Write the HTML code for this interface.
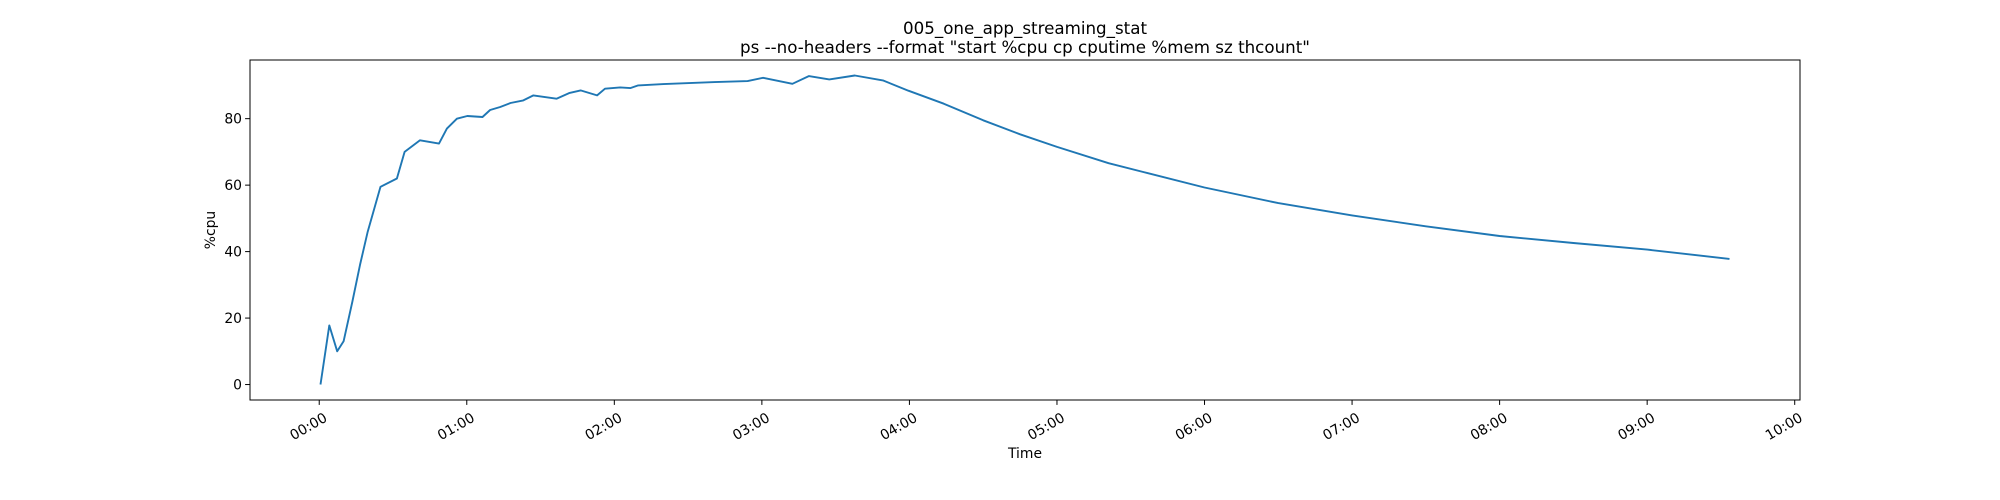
<!DOCTYPE html>
<html><head><meta charset="utf-8"><style>
html,body{margin:0;padding:0;background:#fff;}
svg{display:block;font-family:"DejaVu Sans","Liberation Sans",sans-serif;}
</style></head><body>
<svg id="chart" width="2000" height="500" viewBox="0 0 2000 500" xmlns="http://www.w3.org/2000/svg">
<rect width="2000" height="500" fill="#fff"/>
<text x="1025" y="34" text-anchor="middle" font-size="16.7">005_one_app_streaming_stat</text>
<text x="1025" y="53" text-anchor="middle" font-size="16.7">ps --no-headers --format "start %cpu cp cputime %mem sz thcount"</text>
<g id="plot"></g>
<rect x="250" y="60" width="1550" height="340" fill="none" stroke="#000" stroke-width="1"/>
<text x="1025" y="458" text-anchor="middle" font-size="13.9">Time</text>
<text transform="translate(215,230) rotate(-90)" text-anchor="middle" font-size="13.9">%cpu</text>
</svg>
<script>
const timesMin = [0.5,4.1,7.3,9.9,13.5,16.6,19.7,24.9,31.6,34.7,41,48.7,51.9,56,60.2,66.4,69.5,73.6,77.8,83,87.1,96.5,101.6,106.3,113,116.2,122.4,126.5,129.7,140,150.4,160.8,174.2,180.5,192.4,199.1,207.4,217.8,229.2,239.6,254,270,285,300,321,337,360,390,420,450,480,510,540,573.5];
const cpuValues = [0,17.8,10,13,25,36,46,59.5,62,70,73.5,72.5,77,80,80.8,80.5,82.6,83.5,84.7,85.5,87,86,87.7,88.5,87,89,89.4,89.2,90,90.4,90.7,91,91.3,92.3,90.5,92.8,91.8,93,91.5,88.4,84.5,79.5,75.3,71.5,66.6,63.6,59.3,54.6,50.9,47.6,44.7,42.6,40.6,37.8];
const yTicks = [0,20,40,60,80];
const xTickLabels = ["00:00","01:00","02:00","03:00","04:00","05:00","06:00","07:00","08:00","09:00","10:00"];
const NS="http://www.w3.org/2000/svg";
const g=document.getElementById('plot');
const L=250,R=1800,T=60,B=400;
const tmin=Math.min(...timesMin),tmax=Math.max(...timesMin);
const tpad=(tmax-tmin)*0.05;
const xMin=tmin-tpad,xMax=tmax+tpad;
const vmin=Math.min(...cpuValues),vmax=Math.max(...cpuValues);
const vpad=(vmax-vmin)*0.05;
const yMin=vmin-vpad,yMax=vmax+vpad;
const xs=m=>L+(m-xMin)/(xMax-xMin)*(R-L);
const ys=v=>B-(v-yMin)/(yMax-yMin)*(B-T);
function mk(t,a){const e=document.createElementNS(NS,t);for(const k in a)e.setAttribute(k,a[k]);return e;}
yTicks.forEach(v=>{
  const y=ys(v);
  const tk=mk('line',{x1:L-4.9,x2:L,y1:y,y2:y,stroke:'#000','stroke-width':1});
  
  
  g.appendChild(tk);
  const tx=mk('text',{x:L-8,y:y+5,'text-anchor':'end','font-size':13.9});
  
  
  tx.textContent=v;g.appendChild(tx);
});
xTickLabels.forEach((lab,i)=>{
  const x=xs(i*60);
  const tk=mk('line',{x1:x,x2:x,y1:B,y2:B+4.9,stroke:'#000','stroke-width':1});
  
  
  g.appendChild(tk);
  const tx=mk('text',{transform:`translate(${x+4},${B+12}) rotate(-30)`,'text-anchor':'end','font-size':13.9,dy:'0.7em'});
  
  
  tx.textContent=lab;g.appendChild(tx);
});
const pts=timesMin.map((m,i)=>xs(m).toFixed(1)+','+ys(cpuValues[i]).toFixed(1)).join(' ');
const pl=mk('polyline',{points:pts,fill:'none',stroke:'#1f77b4','stroke-width':1.9,'stroke-linejoin':'round'});


g.appendChild(pl);
</script>
</body></html>
